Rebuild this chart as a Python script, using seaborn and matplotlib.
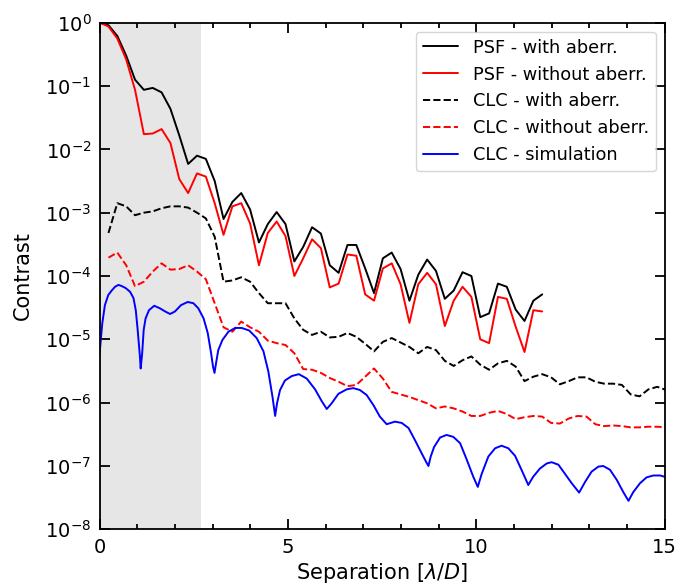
import numpy as np
import pandas as pd
import matplotlib
matplotlib.use("Agg")
import matplotlib.pyplot as plt
from matplotlib.ticker import MultipleLocator, LogLocator, NullLocator
import seaborn as sns

# ---------------- data (contrast given as log10 values) -------------
psf_sep = [0.0, 0.235, 0.47, 0.705, 0.94, 1.175, 1.41, 1.645, 1.88, 2.115, 2.35, 2.585,
           2.82, 3.055, 3.29, 3.525, 3.76, 3.995, 4.23, 4.465, 4.7, 4.935, 5.17, 5.405,
           5.64, 5.875, 6.11, 6.345, 6.58, 6.815, 7.05, 7.285, 7.52, 7.755, 7.99, 8.225,
           8.46, 8.695, 8.93, 9.165, 9.4, 9.635, 9.87, 10.105, 10.34, 10.575, 10.81,
           11.045, 11.28, 11.515, 11.75]

psf_aberr_log = [0.0, -0.04, -0.21, -0.52, -0.90, -1.06, -1.03, -1.10, -1.36, -1.78, -2.23,
                 -2.10, -2.15, -2.50, -3.10, -2.83, -2.69, -2.95, -3.47, -3.18, -2.99, -3.18,
                 -3.77, -3.54, -3.23, -3.33, -3.83, -3.95, -3.51, -3.51, -3.88, -4.27, -3.72,
                 -3.63, -3.89, -4.39, -3.98, -3.74, -3.92, -4.36, -4.23, -3.94, -4.00, -4.65,
                 -4.59, -4.12, -4.17, -4.53, -4.71, -4.39, -4.29]

psf_noaberr_log = [0.0, -0.06, -0.25, -0.58, -1.06, -1.76, -1.75, -1.68, -1.90, -2.47, -2.69,
                   -2.38, -2.43, -2.85, -3.35, -2.90, -2.85, -3.17, -3.83, -3.32, -3.14, -3.37,
                   -4.00, -3.72, -3.42, -3.56, -4.18, -4.12, -3.66, -3.68, -4.29, -4.39, -3.88,
                   -3.80, -4.13, -4.74, -4.13, -3.95, -4.13, -4.79, -4.39, -4.17, -4.33, -5.00,
                   -5.06, -4.33, -4.36, -4.80, -5.20, -4.54, -4.56]

clc_sep = [0.235, 0.47, 0.705, 0.94, 1.175, 1.41, 1.645, 1.88, 2.115, 2.35, 2.585, 2.82,
           3.055, 3.29, 3.525, 3.76, 3.995, 4.23, 4.465, 4.7, 4.935, 5.17, 5.405, 5.64,
           5.875, 6.11, 6.345, 6.58, 6.815, 7.05, 7.285, 7.52, 7.755, 7.99, 8.225, 8.46,
           8.695, 8.93, 9.165, 9.4, 9.635, 9.87, 10.105, 10.34, 10.575, 10.81, 11.045,
           11.28, 11.515, 11.75, 11.985, 12.22, 12.455, 12.69, 12.925, 13.16, 13.395,
           13.63, 13.865, 14.1, 14.335, 14.57, 14.805, 15.04]

clc_aberr_log = [-3.32, -2.85, -2.90, -3.04, -3.00, -2.98, -2.93, -2.90, -2.90, -2.92,
                 -3.00, -3.09, -3.38, -4.09, -4.07, -4.02, -4.09, -4.27, -4.43, -4.43,
                 -4.43, -4.67, -4.85, -4.93, -4.88, -4.97, -4.96, -4.90, -4.96, -5.07,
                 -5.19, -5.04, -4.98, -5.05, -5.12, -5.22, -5.12, -5.17, -5.34, -5.42,
                 -5.33, -5.27, -5.40, -5.48, -5.38, -5.34, -5.43, -5.66, -5.59, -5.55,
                 -5.60, -5.71, -5.66, -5.60, -5.60, -5.67, -5.70, -5.70, -5.72, -5.87,
                 -5.90, -5.79, -5.75, -5.80]

clc_noaberr_log = [-3.71, -3.63, -3.83, -4.16, -4.09, -3.93, -3.80, -3.90, -3.89, -3.83,
                   -3.93, -4.05, -4.43, -4.81, -4.88, -4.72, -4.81, -4.88, -5.02, -5.06,
                   -5.09, -5.22, -5.47, -5.48, -5.53, -5.61, -5.67, -5.74, -5.72, -5.59,
                   -5.46, -5.62, -5.83, -5.87, -5.91, -5.96, -6.01, -6.09, -6.06, -6.09,
                   -6.14, -6.21, -6.21, -6.16, -6.13, -6.18, -6.26, -6.23, -6.21, -6.22,
                   -6.32, -6.33, -6.25, -6.21, -6.22, -6.34, -6.37, -6.36, -6.37, -6.39,
                   -6.39, -6.38, -6.38, -6.39]

sim_sep = [0.0, 0.07, 0.14, 0.23, 0.32, 0.41, 0.50, 0.59, 0.69, 0.81, 0.90, 0.96, 1.01,
           1.07, 1.09, 1.13, 1.17, 1.22, 1.31, 1.45, 1.60, 1.74, 1.87, 2.00, 2.16, 2.34,
           2.49, 2.62, 2.76, 2.87, 2.96, 3.01, 3.05, 3.09, 3.15, 3.26, 3.42, 3.60, 3.77,
           3.97, 4.17, 4.35, 4.48, 4.59, 4.66, 4.71, 4.79, 4.92, 5.10, 5.29, 5.50, 5.72,
           5.90, 6.03, 6.16, 6.34, 6.56, 6.73, 6.91, 7.09, 7.27, 7.44, 7.62, 7.84, 8.02,
           8.20, 8.37, 8.55, 8.69, 8.73, 8.79, 8.88, 9.04, 9.21, 9.39, 9.57, 9.74, 9.92,
           10.04, 10.14, 10.32, 10.50, 10.67, 10.85, 11.03, 11.20, 11.38, 11.51, 11.69,
           11.87, 12.00, 12.18, 12.35, 12.53, 12.73, 12.89, 13.06, 13.24, 13.37, 13.55,
           13.73, 13.90, 14.04, 14.17, 14.35, 14.52, 14.70, 14.88, 15.0]

sim_log = [-5.22, -4.75, -4.46, -4.30, -4.23, -4.17, -4.14, -4.16, -4.19, -4.25, -4.35,
           -4.54, -4.85, -5.27, -5.46, -5.22, -4.85, -4.67, -4.54, -4.47, -4.51, -4.56,
           -4.60, -4.56, -4.46, -4.41, -4.43, -4.51, -4.67, -4.90, -5.22, -5.43, -5.53,
           -5.38, -5.17, -5.01, -4.88, -4.82, -4.82, -4.86, -4.98, -5.19, -5.51, -5.91,
           -6.21, -6.01, -5.80, -5.65, -5.58, -5.55, -5.62, -5.79, -5.98, -6.10, -6.01,
           -5.86, -5.79, -5.77, -5.80, -5.88, -6.04, -6.22, -6.34, -6.30, -6.32, -6.40,
           -6.59, -6.80, -6.96, -7.00, -6.85, -6.70, -6.55, -6.51, -6.54, -6.64, -6.89,
           -7.17, -7.33, -7.13, -6.85, -6.72, -6.68, -6.72, -6.84, -7.06, -7.30, -7.17,
           -7.04, -6.96, -6.94, -6.98, -7.12, -7.27, -7.42, -7.25, -7.09, -7.01, -7.00,
           -7.06, -7.22, -7.41, -7.55, -7.41, -7.27, -7.18, -7.15, -7.15, -7.17]

iwa = 2.7

labels = ["PSF - with aberr.", "PSF - without aberr.", "CLC - with aberr.",
          "CLC - without aberr.", "CLC - simulation"]

# ---------------- style -------------
sns.set_theme(style="ticks")
plt.rcParams["font.family"] = ["DejaVu Sans"]
plt.rcParams["mathtext.fontset"] = "dejavusans"
for key in ["text.color", "axes.labelcolor", "xtick.color", "ytick.color",
            "axes.edgecolor"]:
    plt.rcParams[key] = "black"

fig = plt.figure(figsize=(6.8, 5.88), dpi=100)
ax = fig.add_axes([0.1465, 0.0998, 0.8309, 0.8616])

ax.axvspan(0, iwa, color="0.9", lw=0, zorder=0)

series = [
    (psf_sep, psf_aberr_log, "black", "-"),
    (psf_sep, psf_noaberr_log, "red", "-"),
    (clc_sep, clc_aberr_log, "black", "--"),
    (clc_sep, clc_noaberr_log, "red", "--"),
    (sim_sep, sim_log, "blue", "-"),
]
for (xs, ys, col, ls), lab in zip(series, labels):
    df = pd.DataFrame({"sep": xs, "contrast": 10.0 ** np.asarray(ys)})
    sns.lineplot(data=df, x="sep", y="contrast", ax=ax, color=col, linestyle=ls,
                 lw=1.4, label=lab, sort=False, estimator=None)

ax.set_yscale("log")
ax.set_xlim(0, 15)
ax.set_ylim(1e-8, 1)

ax.xaxis.set_major_locator(MultipleLocator(5))
ax.xaxis.set_minor_locator(MultipleLocator(1))
ax.yaxis.set_major_locator(LogLocator(base=10, numticks=20))
ax.yaxis.set_minor_locator(NullLocator())

ax.tick_params(which="both", direction="in", top=True, right=True, labelsize=14,
               width=1.3, color="black", labelcolor="black")
ax.tick_params(which="major", length=7.5, pad=6)
ax.tick_params(which="minor", length=3.8)
for sp in ax.spines.values():
    sp.set_linewidth(1.3)
    sp.set_color("black")

ax.set_xlabel(r"Separation [$\lambda/D$]", fontsize=15, labelpad=3)
ax.set_ylabel("Contrast", fontsize=15, labelpad=9)

leg = ax.legend(loc="upper right", fontsize=12.8, frameon=True, handlelength=2.0)
for t in leg.get_texts():
    t.set_color("black")

fig.savefig("out.png", dpi=100)
